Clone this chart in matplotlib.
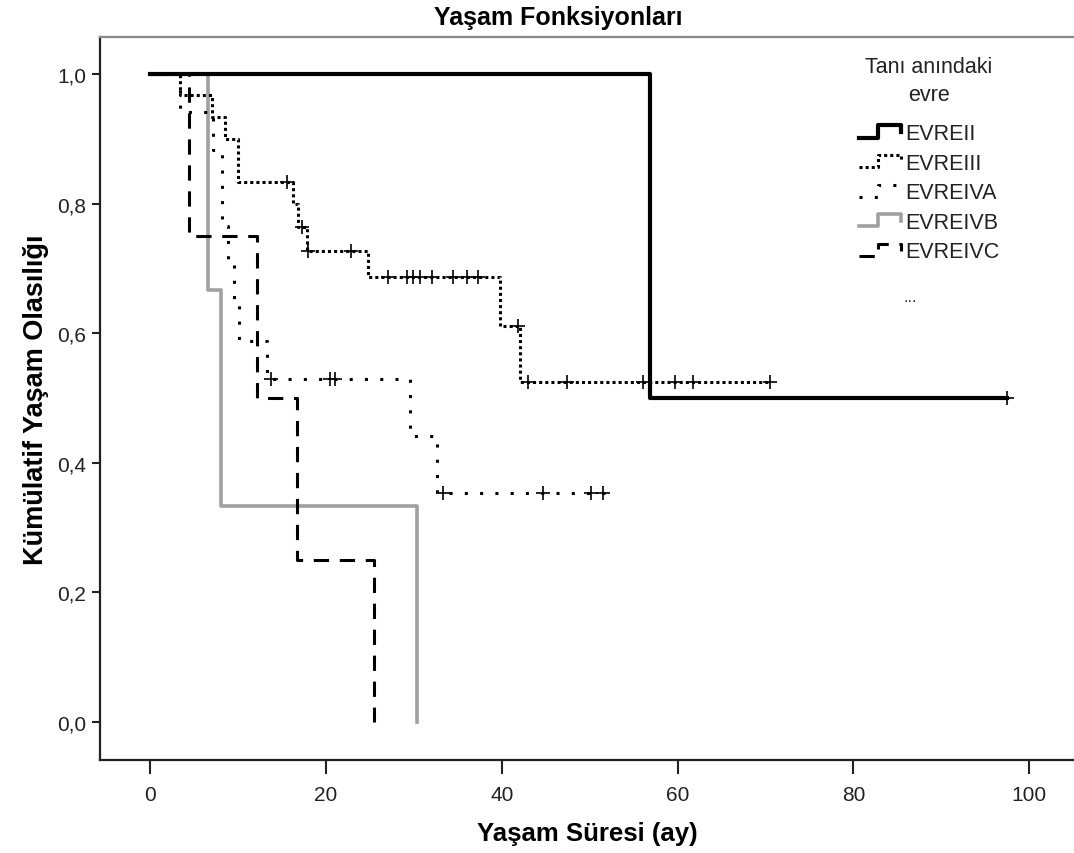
import numpy as np
import matplotlib
matplotlib.use("Agg")
import matplotlib.pyplot as plt
from matplotlib.lines import Line2D
from matplotlib.legend_handler import HandlerBase

plt.rcParams['font.family'] = ['Liberation Sans Narrow', 'Liberation Sans', 'DejaVu Sans']

# step data: drop times (ay) and survival after each drop
evre2_t = [0, 56.9]
evre2_s = [1.0, 0.5]
evre2_end = 97.5
evre2_cens_t = [97.5]
evre2_cens_s = [0.5]

evre3_t = [0, 3.4, 7.0, 8.5, 10.0, 16.3, 16.8, 17.9, 24.8, 39.8, 42.1]
evre3_s = [1.0, 0.967, 0.933, 0.9, 0.833, 0.799, 0.764, 0.727, 0.687, 0.611, 0.524]
evre3_end = 70.5
evre3_cens_t = [15.6, 17.3, 18.0, 22.8, 27.1, 29.2, 29.9, 30.7, 32.1, 34.4, 36.1, 37.3,
                41.9, 43.0, 47.4, 56.1, 59.7, 61.8, 70.5]
evre3_cens_s = [0.833, 0.764, 0.727, 0.727, 0.687, 0.687, 0.687, 0.687, 0.687, 0.687,
                0.687, 0.687, 0.611, 0.524, 0.524, 0.524, 0.524, 0.524, 0.524]

evre4a_t = [0, 3.4, 7.2, 8.2, 8.9, 9.6, 10.1, 13.3, 29.6, 32.6]
evre4a_s = [1.0, 0.941, 0.882, 0.765, 0.706, 0.647, 0.588, 0.529, 0.441, 0.353]
evre4a_end = 52.0
evre4a_cens_t = [13.7, 20.5, 21.0, 33.3, 44.7, 50.1, 51.5]
evre4a_cens_s = [0.529, 0.529, 0.529, 0.353, 0.353, 0.353, 0.353]

evre4b_t = [0, 6.6, 8.1, 30.4]
evre4b_s = [1.0, 0.667, 0.333, 0.0]

evre4c_t = [0, 4.4, 12.2, 16.7, 25.5]
evre4c_s = [1.0, 0.75, 0.5, 0.25, 0.0]

x_ticks = [0, 20, 40, 60, 80, 100]
y_ticks = [0.0, 0.2, 0.4, 0.6, 0.8, 1.0]
y_tick_labels = ['0,0', '0,2', '0,4', '0,6', '0,8', '1,0']

styles = {
    'EVREII': dict(color='black', lw=3.0, linestyle='-'),
    'EVREIII': dict(color='black', lw=2.2, linestyle=(0, (1, 1))),
    'EVREIVA': dict(color='black', lw=2.2, linestyle=(0, (1, 4))),
    'EVREIVB': dict(color='#a0a0a0', lw=2.6, linestyle='-'),
    'EVREIVC': dict(color='black', lw=2.2, linestyle=(0, (5, 3.5))),
}


def steps(t, s, end=None):
    t = list(t)
    s = list(s)
    if end is not None:
        t.append(end)
        s.append(s[-1])
    return t, s


class StepHandler(HandlerBase):
    # legend key drawn as a small step, like the SPSS output
    def create_artists(self, legend, orig_handle, xdescent, ydescent, width, height, fontsize, trans):
        xs = np.array([0, 0.45, 0.45, 0.97, 0.97]) * width - xdescent
        ys = np.array([0.1, 0.1, 0.9, 0.9, 0.45]) * height - ydescent
        line = Line2D(xs, ys, **styles[orig_handle.get_label()])
        line.set_transform(trans)
        return [line]


fig = plt.figure(figsize=(10.74, 8.54), dpi=100)
ax = fig.add_axes([100 / 1074, (854 - 761) / 854, 974 / 1074, (761 - 38) / 854])

# draw gray first so the others sit on top
t, s = steps(evre4b_t, evre4b_s)
l4b, = ax.step(t, s, where='post', label='EVREIVB', **styles['EVREIVB'])
t, s = steps(evre4c_t, evre4c_s)
l4c, = ax.step(t, s, where='post', label='EVREIVC', **styles['EVREIVC'])
t, s = steps(evre4a_t, evre4a_s, evre4a_end)
l4a, = ax.step(t, s, where='post', label='EVREIVA', **styles['EVREIVA'])
t, s = steps(evre3_t, evre3_s, evre3_end)
l3, = ax.step(t, s, where='post', label='EVREIII', **styles['EVREIII'])
t, s = steps(evre2_t, evre2_s, evre2_end)
l2, = ax.step(t, s, where='post', label='EVREII', **styles['EVREII'])

# censor marks
for ct, cs in [(evre2_cens_t, evre2_cens_s), (evre3_cens_t, evre3_cens_s),
               (evre4a_cens_t, evre4a_cens_s)]:
    ax.plot(ct, cs, linestyle='none', marker='+', markersize=10, markeredgewidth=1.2,
            color='black')

ax.set_xlim(-5.7, 105.1)
ax.set_ylim(-0.0586, 1.057)
ax.set_xticks(x_ticks)
ax.set_yticks(y_ticks)
ax.set_yticklabels(y_tick_labels)
ax.tick_params(axis='x', direction='out', length=10, width=1.5, labelsize=15, pad=8,
               colors='#222222')
ax.tick_params(axis='y', direction='out', length=6, width=1.5, labelsize=15, pad=4,
               colors='#222222')
for sp in ['left', 'bottom']:
    ax.spines[sp].set_linewidth(1.6)
    ax.spines[sp].set_color('#222222')
ax.spines['top'].set_color('#888888')
ax.spines['top'].set_linewidth(1.6)
ax.spines['right'].set_visible(False)

ax.set_xlabel('Yaşam Süresi (ay)', fontsize=18.5, fontweight='bold', labelpad=12)
ax.set_ylabel('Kümülatif Yaşam Olasılığı', fontsize=19.5, fontweight='bold', labelpad=6)
fig.text(0.52, 1 - 18 / 854, 'Yaşam Fonksiyonları', ha='center', va='center',
         fontsize=18, fontweight='bold')

handles = [l2, l3, l4a, l4b, l4c]
labels = ['EVREII', 'EVREIII', 'EVREIVA', 'EVREIVB', 'EVREIVC']
leg = ax.legend(handles, labels, title='Tanı anındaki\nevre', loc='upper left',
                bbox_to_anchor=(848 / 1074, 1 - 46 / 854), bbox_transform=fig.transFigure,
                frameon=False, fontsize=15.5, title_fontsize=15.5, handlelength=2.0,
                handletextpad=0.15, labelspacing=0.4, borderpad=0,
                handler_map={Line2D: StepHandler()})
leg.get_title().set_multialignment('center')
leg.get_title().set_linespacing(1.45)
leg.get_title().set_color('#222222')
leg._legend_box.sep = 13
for txt in leg.get_texts():
    txt.set_color('#222222')
fig.text(910 / 1074, 1 - 298 / 854, '...', ha='center', va='center', fontsize=12,
         color='#333333')

fig.savefig('out.png', dpi=100)
